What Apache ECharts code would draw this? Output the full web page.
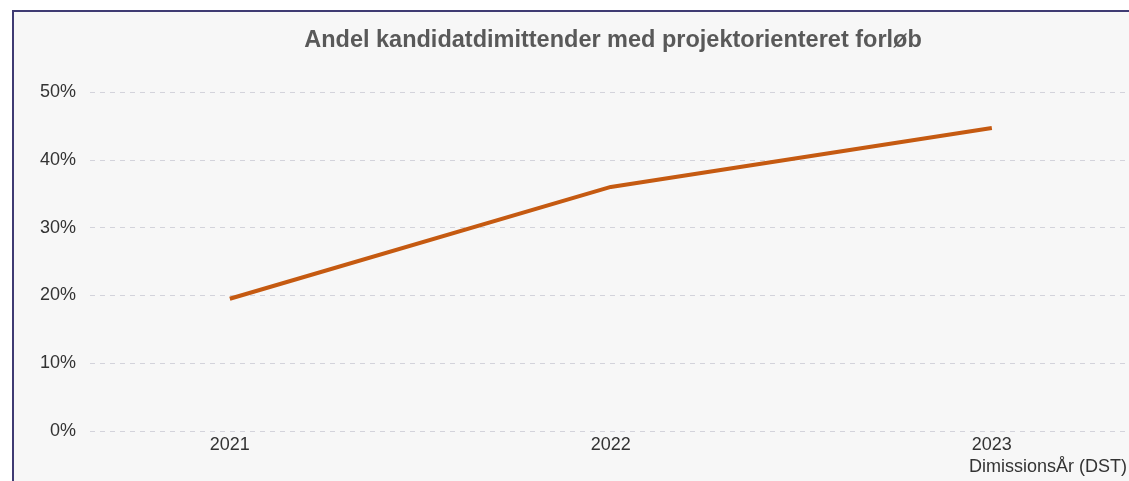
<!DOCTYPE html>
<html>
<head>
<meta charset="utf-8">
<script src="https://cdn.jsdelivr.net/npm/echarts@6/dist/echarts.min.js"></script>
<style>
  html, body { margin: 0; padding: 0; background: #ffffff; }
  #wrap { position: relative; width: 1129px; height: 481px; overflow: hidden; }
  #frame {
    position: absolute; left: 12px; top: 10px; right: -4px; bottom: -4px;
    background: #f7f7f7;
    border-left: 2px solid #3f3b73;
    border-top: 2px solid #3f3b73;
  }
  #chart { position: absolute; left: 0; top: 0; width: 1129px; height: 481px; }
</style>
</head>
<body>
<div id="wrap">
  <div id="frame"></div>
  <div id="chart"></div>
</div>
<script>
// Share of graduates with a project-oriented course, by graduation year
const years = [2021, 2022, 2023];
const shares = [0.195, 0.360, 0.447];
const yTicks = [0, 0.1, 0.2, 0.3, 0.4, 0.5];

const chart = echarts.init(document.getElementById('chart'), null, { renderer: 'canvas' });

const option = {
  backgroundColor: 'transparent',
  animation: false,
  title: {
    text: 'Andel kandidatdimittender med projektorienteret forløb',
    left: 608,
    textAlign: 'center',
    top: 24,
    textStyle: {
      fontFamily: 'Liberation Sans, Arial, sans-serif',
      fontSize: 23.5,
      fontWeight: 'bold',
      color: '#595959'
    }
  },
  grid: { left: 90, right: 0, top: 92, bottom: 50 },
  xAxis: {
    type: 'value',
    min: 2020.633,
    max: 2023.36,
    axisLine: { show: false },
    axisTick: { show: false },
    splitLine: { show: false },
    axisLabel: {
      customValues: years,
      formatter: v => String(v),
      margin: 5,
      color: '#333333',
      fontFamily: 'Liberation Sans, Arial, sans-serif',
      fontSize: 18
    }
  },
  yAxis: {
    type: 'value',
    min: 0,
    max: 0.5,
    interval: 0.1,
    axisLine: { show: false },
    axisTick: { show: false },
    axisLabel: {
      formatter: v => Math.round(v * 100) + '%',
      margin: 14,
      color: '#333333',
      fontFamily: 'Liberation Sans, Arial, sans-serif',
      fontSize: 18
    },
    splitLine: {
      lineStyle: { color: '#d3d3db', type: [5, 5], width: 1 }
    }
  },
  graphic: [{
    type: 'text',
    right: 2,
    top: 458,
    style: {
      text: 'DimissionsÅr (DST)',
      fill: '#333333',
      font: '18px "Liberation Sans", Arial, sans-serif'
    }
  }],
  series: [{
    type: 'line',
    data: years.map((y, i) => [y, shares[i]]),
    symbol: 'none',
    lineStyle: { color: '#c55a11', width: 4, cap: 'butt' },
    silent: true
  }]
};

chart.setOption(option);
</script>
</body>
</html>
